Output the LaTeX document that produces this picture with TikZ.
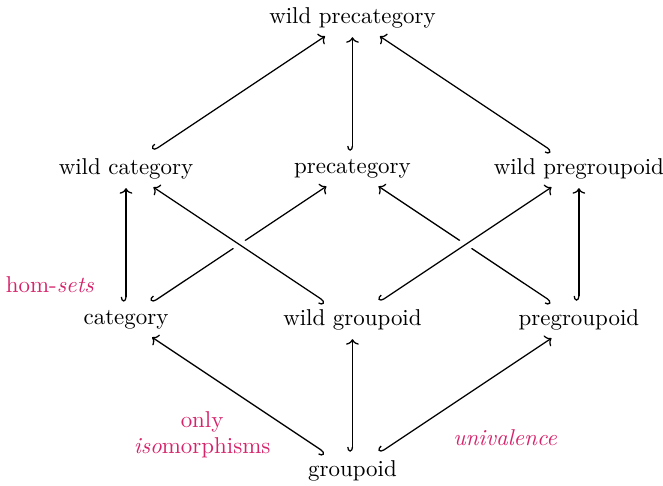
\documentclass[tikz,border=0pt]{standalone}
\usepackage{xcolor}
\usetikzlibrary{arrows.meta}
\definecolor{accent}{RGB}{214,36,107}

\begin{document}
\begin{tikzpicture}[font=\fontsize{10.8}{12.4}\selectfont,
obj/.style={inner sep=3pt},
note/.style={text=accent,align=center},
inc/.style={{Hooks[right,length=2.2pt,width=5pt]}-{To[length=2.6pt,width=6pt]},semithick,shorten <=1pt,shorten >=1pt},
over/.style={inc,preaction={draw=white,line width=6pt,-}}]
\useasboundingbox (-2.087,-0.248) rectangle (8.893,7.798);
% cube of notions
\node[obj] (wpc) at (3.75,7.5) {wild precategory};
\node[obj] (wc) at (0,5) {wild category};
\node[obj] (pc) at (3.75,5) {precategory};
\node[obj] (wpg) at (7.5,5) {wild pregroupoid};
\node[obj] (c) at (0,2.5) {category};
\node[obj] (wg) at (3.75,2.5) {wild groupoid};
\node[obj] (pg) at (7.5,2.5) {pregroupoid};
\node[obj] (g) at (3.75,0) {groupoid};
% labels
\node[note] (hs) at (-1.26,3.08) {hom-\textit{sets}};
\node[note] (oi) at (1.26,0.6) {only\\\textit{iso}morphisms};
\node[note] (uv) at (6.28,0.55) {\textit{univalence}};
% arrows
\draw[inc] (wc)--(wpc); \draw[inc] (pc)--(wpc); \draw[inc] (wpg)--(wpc);
\draw[inc] (c)--(wc); \draw[inc] (pg)--(wpg);
\draw[inc] (c)--(pc); \draw[inc] (pg)--(pc);
\draw[over] (wg)--(wc); \draw[over] (wg)--(wpg);
\draw[inc] (g)--(c); \draw[inc] (g)--(wg); \draw[inc] (g)--(pg);
\end{tikzpicture}
\end{document}
